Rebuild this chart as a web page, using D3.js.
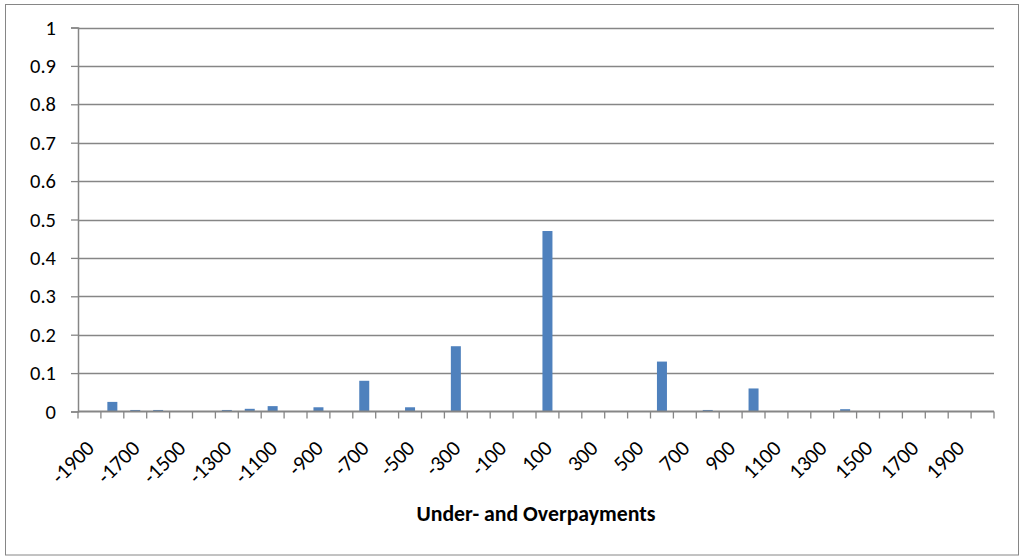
<!DOCTYPE html>
<html>
<head>
<meta charset="utf-8">
<script src="https://cdn.jsdelivr.net/npm/d3@7"></script>
<style>
  html, body { margin: 0; padding: 0; background: #fff; }
  svg { display: block; font-family: Carlito, Lato, "Open Sans", sans-serif; }
</style>
</head>
<body>
<svg id="chart" width="1020" height="557"></svg>
<script>
// Distribution of under- and overpayments, binned in steps of 100
const categories = d3.range(-1900, 2001, 100);
const shares = [
  0, 0.025, 0.004, 0.004, 0, 0, 0.004, 0.007, 0.014, 0,
  0.011, 0, 0.08, 0, 0.011, 0, 0.17, 0, 0, 0,
  0.47, 0, 0, 0, 0, 0.13, 0, 0.004, 0, 0.06,
  0, 0, 0, 0.006, 0, 0, 0, 0, 0, 0
];
const yTicks = [0, 0.1, 0.2, 0.3, 0.4, 0.5, 0.6, 0.7, 0.8, 0.9, 1];
const xTickLabels = categories.filter((d, i) => i % 2 === 0);
const axisTitle = "Under- and Overpayments";

const svg = d3.select("#chart");
const plot = { left: 78, right: 994, top: 27.5, bottom: 411.5 };
const gray = "#868686";

// chart frame
svg.append("rect")
  .attr("x", 5.5).attr("y", 4.5)
  .attr("width", 1013).attr("height", 550.5)
  .attr("fill", "#fff").attr("stroke", gray).attr("stroke-width", 1);

const x = d3.scaleBand().domain(categories).range([plot.left, plot.right]).paddingInner(0).paddingOuter(0);
const y = d3.scaleLinear().domain([0, 1]).range([plot.bottom, plot.top]);
const barW = 10;

// horizontal gridlines
svg.append("g").selectAll("line").data(yTicks.slice(1)).join("line")
  .attr("x1", plot.left).attr("x2", plot.right)
  .attr("y1", d => Math.round(y(d)) + 0.5).attr("y2", d => Math.round(y(d)) + 0.5)
  .attr("stroke", gray).attr("stroke-width", 1.3);

// y axis
const yAxis = svg.append("g")
  .attr("transform", `translate(${plot.left},0)`)
  .call(d3.axisLeft(y).tickValues(yTicks).tickFormat(d => String(d)).tickSize(7).tickPadding(15));
yAxis.select(".domain").attr("stroke", gray).attr("stroke-width", 1.5);
yAxis.selectAll(".tick line").attr("stroke", gray).attr("stroke-width", 1.3);
yAxis.selectAll(".tick text")
  .attr("font-family", "Carlito, Lato, 'Open Sans', sans-serif")
  .attr("font-size", 20.5).attr("fill", "#000");

// bars
svg.append("g").selectAll("rect").data(categories.map((c, i) => ({ c, v: shares[i] }))).join("rect")
  .filter(d => d.v > 0)
  .attr("x", d => x(d.c) + x.bandwidth() / 2 - barW / 2)
  .attr("width", barW)
  .attr("y", d => y(d.v))
  .attr("height", d => y(0) - y(d.v))
  .attr("fill", "#4F81BD");

// x axis: tick marks at category boundaries
const boundaries = categories.map(c => x(c)).concat([plot.right]);
const xAxis = svg.append("g");
xAxis.append("line")
  .attr("x1", plot.left).attr("x2", plot.right)
  .attr("y1", plot.bottom).attr("y2", plot.bottom)
  .attr("stroke", gray).attr("stroke-width", 2);
xAxis.selectAll("line.tk").data(boundaries).join("line")
  .attr("class", "tk")
  .attr("x1", d => d).attr("x2", d => d)
  .attr("y1", plot.bottom).attr("y2", plot.bottom + 7)
  .attr("stroke", gray).attr("stroke-width", 1.3);

// rotated category labels
xAxis.selectAll("text").data(xTickLabels).join("text")
  .attr("transform", d => `translate(${x(d) + x.bandwidth() / 2 + 6},${plot.bottom + 38}) rotate(-45)`)
  .attr("text-anchor", "end")
  .attr("font-size", 21.5)
  .attr("fill", "#000")
  .text(d => String(d));

// axis title
svg.append("text")
  .attr("x", (plot.left + plot.right) / 2)
  .attr("y", 521)
  .attr("text-anchor", "middle")
  .attr("font-weight", "bold")
  .attr("font-size", 21.8)
  .attr("fill", "#000")
  .text(axisTitle);
</script>
</body>
</html>
